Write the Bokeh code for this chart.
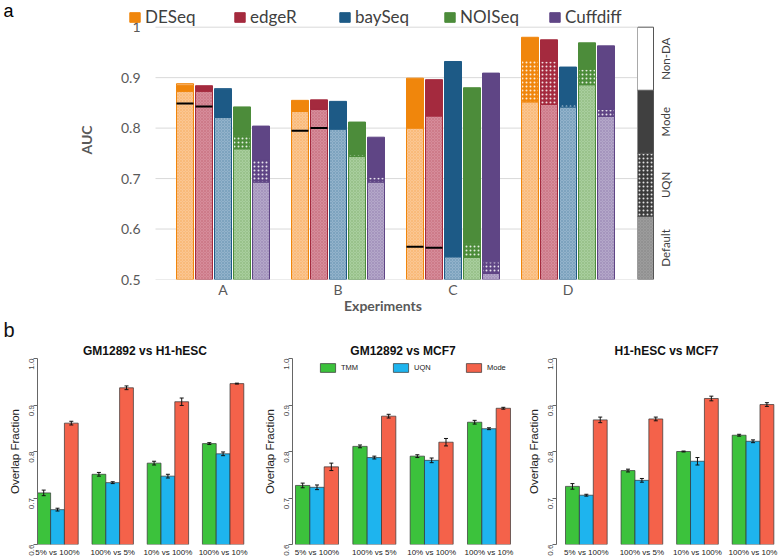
import math
from bokeh.plotting import figure
from bokeh.models import (ColumnDataSource, FixedTicker, NumeralTickFormatter, Legend,
                          LegendItem, Label, Whisker, TeeHead, Range1d, Title)
from bokeh.layouts import row, column
from bokeh.embed import file_html
from bokeh.resources import INLINE
from bokeh.core.properties import value

# ---------------- panel a data ----------------
experiments = ["A", "B", "C", "D"]
methods = ["DESeq", "edgeR", "baySeq", "NOISeq", "Cuffdiff"]

auc_default = {
    "DESeq":    [0.873, 0.833, 0.800, 0.852],
    "edgeR":    [0.873, 0.837, 0.824, 0.847],
    "baySeq":   [0.821, 0.798, 0.545, 0.842],
    "NOISeq":   [0.759, 0.744, 0.544, 0.886],
    "Cuffdiff": [0.693, 0.693, 0.512, 0.823],
}
auc_uqn = {
    "DESeq":    [0.873, 0.833, 0.800, 0.934],
    "edgeR":    [0.873, 0.837, 0.824, 0.933],
    "baySeq":   [0.825, 0.798, 0.545, 0.847],
    "NOISeq":   [0.786, 0.748, 0.572, 0.917],
    "Cuffdiff": [0.736, 0.703, 0.535, 0.837],
}
auc_mode = {
    "DESeq":    [0.885, 0.855, 0.899, 0.980],
    "edgeR":    [0.884, 0.856, 0.896, 0.975],
    "baySeq":   [0.877, 0.853, 0.932, 0.921],
    "NOISeq":   [0.842, 0.812, 0.880, 0.969],
    "Cuffdiff": [0.804, 0.782, 0.909, 0.963],
}
auc_nonda = {
    "DESeq":    [0.888, 0.855, 0.899, 0.980],
    "edgeR":    [0.884, 0.856, 0.896, 0.975],
    "baySeq":   [0.878, 0.853, 0.932, 0.921],
    "NOISeq":   [0.842, 0.812, 0.880, 0.969],
    "Cuffdiff": [0.804, 0.782, 0.909, 0.963],
}
auc_tmm_marker = {
    "DESeq": [0.849, 0.795, 0.565, None],
    "edgeR": [0.843, 0.800, 0.563, None],
}
auc_ticks = [0.5, 0.6, 0.7, 0.8, 0.9, 1.0]
auc_floor = 0.5
key_levels = ["Default", "UQN", "Mode", "Non-DA"]
key_bounds = [0.5, 0.625, 0.75, 0.875, 1.0]

# ---------------- panel b data ----------------
comparisons = ["5% vs 100%", "100% vs 5%", "10% vs 100%", "100% vs 10%"]
norm_names = ["TMM", "UQN", "Mode"]
panel_titles = ["GM12892 vs H1-hESC", "GM12892 vs MCF7", "H1-hESC vs MCF7"]

gm_h1_tmm = [0.711, 0.751, 0.775, 0.817]
gm_h1_uqn = [0.675, 0.733, 0.747, 0.795]
gm_h1_mode = [0.861, 0.937, 0.907, 0.946]
gm_h1_tmm_err = [0.006, 0.004, 0.004, 0.002]
gm_h1_uqn_err = [0.003, 0.002, 0.004, 0.004]
gm_h1_mode_err = [0.004, 0.004, 0.008, 0.001]

gm_mcf_tmm = [0.727, 0.811, 0.790, 0.863]
gm_mcf_uqn = [0.723, 0.787, 0.781, 0.849]
gm_mcf_mode = [0.767, 0.876, 0.820, 0.893]
gm_mcf_tmm_err = [0.005, 0.003, 0.003, 0.004]
gm_mcf_uqn_err = [0.005, 0.003, 0.005, 0.002]
gm_mcf_mode_err = [0.008, 0.004, 0.008, 0.002]

h1_mcf_tmm = [0.725, 0.759, 0.800, 0.835]
h1_mcf_uqn = [0.706, 0.738, 0.779, 0.822]
h1_mcf_mode = [0.868, 0.870, 0.914, 0.901]
h1_mcf_tmm_err = [0.006, 0.003, 0.001, 0.002]
h1_mcf_uqn_err = [0.002, 0.004, 0.008, 0.003]
h1_mcf_mode_err = [0.006, 0.004, 0.005, 0.004]

overlap_ticks = [0.6, 0.7, 0.8, 0.9, 1.0]

# ---------------- styles ----------------
base_col = {"DESeq": "#F0860C", "edgeR": "#A42A3E", "baySeq": "#1D5A86",
            "NOISeq": "#4C8C3A", "Cuffdiff": "#5F4585"}
light_col = {"DESeq": "#FBC692", "edgeR": "#D68C9A", "baySeq": "#93B3CB",
             "NOISeq": "#A9CE9E", "Cuffdiff": "#B4A7C9"}
norm_col = {"TMM": "#3CC23C", "UQN": "#1EB4EE", "Mode": "#F4624A"}
FONT_A = "Lato"
FONT_B = "Liberation Sans"
GRAY = "#595959"

PX_PER_GROUP = 115
bar_step = 19 / PX_PER_GROUP
bar_w = 17 / PX_PER_GROUP
TOP_H = 316
TOP_BOTTOM_BORDER = 37
STRIP_W = 20
FRAME_LEFT = 128          # page x where the top frame starts (legend start)
GRID_LEFT = 155           # page x where the grid lines start
GRID_RIGHT = 637
grid_x0 = -0.587
grid_x1 = grid_x0 + (GRID_RIGHT - GRID_LEFT) / PX_PER_GROUP
x_lo = grid_x0 - (GRID_LEFT - FRAME_LEFT) / PX_PER_GROUP
y_hi = 1.0 + 26.7 / 505


def stack_source(lower, upper):
    d = dict(x=[], bottom=[], top=[], base=[], light=[], method=[])
    for mi, m in enumerate(methods):
        for gi in range(len(experiments)):
            lo = lower[m][gi] if lower is not None else auc_floor
            hi = upper[m][gi]
            if hi - lo > 1e-6:
                d["x"].append(gi + (mi - 2) * bar_step)
                d["bottom"].append(lo)
                d["top"].append(hi)
                d["base"].append(base_col[m])
                d["light"].append(light_col[m])
                d["method"].append(m)
    return ColumnDataSource(d)


def bare(fig):
    fig.outline_line_color = None
    fig.grid.visible = False
    fig.xaxis.visible = False
    fig.yaxis.visible = False
    return fig


# ---------------- panel a ----------------
strip_a = bare(figure(width=STRIP_W, height=TOP_H, x_range=Range1d(0, STRIP_W),
                      y_range=Range1d(0, TOP_H), output_backend="svg",
                      toolbar_location=None, title=None, min_border=0))
strip_a.add_layout(Label(x=3, y=TOP_H - 12, text="a", text_font=FONT_B,
                         text_font_size="18px", text_baseline="middle", text_color="black"))

yr = Range1d(0.5, y_hi)
pa = figure(width=GRID_RIGHT - STRIP_W, height=TOP_H, x_range=Range1d(x_lo, grid_x1), y_range=yr,
            output_backend="svg", toolbar_location=None, title=None,
            min_border_left=FRAME_LEFT - STRIP_W, min_border_right=0,
            min_border_top=0, min_border_bottom=TOP_BOTTOM_BORDER)
pa.outline_line_color = None
pa.grid.visible = False
pa.segment(x0=grid_x0, x1=grid_x1, y0=auc_ticks, y1=auc_ticks,
           line_color="#D9D9D9", line_width=1)

pa.vbar(x="x", bottom="bottom", top="top", width=bar_w, source=stack_source(None, auc_default),
        fill_color="light", line_color="base", line_width=1,
        hatch_pattern="diagonal_cross", hatch_color="base", hatch_alpha=0.3,
        hatch_scale=3, hatch_weight=0.6)
pa.vbar(x="x", bottom="bottom", top="top", width=bar_w, source=stack_source(auc_default, auc_uqn),
        fill_color="base", line_color="base", line_width=1,
        hatch_pattern="dot", hatch_color="white", hatch_alpha=0.85,
        hatch_scale=4, hatch_weight=2.2)
mode_src = stack_source(auc_uqn, auc_mode)
mode_r = pa.vbar(x="x", bottom="bottom", top="top", width=bar_w, source=mode_src,
                 fill_color="base", line_color="base", line_width=1)
pa.vbar(x="x", bottom="bottom", top="top", width=bar_w, source=stack_source(auc_mode, auc_nonda),
        fill_color="light", line_color="base", line_width=1)

tx, ty = [], []
for mi, m in enumerate(methods):
    if m in auc_tmm_marker:
        for gi, v in enumerate(auc_tmm_marker[m]):
            if v is not None:
                tx.append(gi + (mi - 2) * bar_step)
                ty.append(v)
pa.rect(x=tx, y=ty, width=bar_w, height=2, height_units="screen",
        fill_color="black", line_color=None)

pa.xaxis.ticker = FixedTicker(ticks=list(range(len(experiments))))
pa.xaxis.major_label_overrides = {i: e for i, e in enumerate(experiments)}
pa.xaxis.axis_label = "Experiments"
pa.yaxis.ticker = FixedTicker(ticks=auc_ticks)
pa.yaxis.formatter = NumeralTickFormatter(format="0.[0]")
pa.yaxis.axis_label = "AUC"
for ax in (pa.xaxis[0], pa.yaxis[0]):
    ax.axis_line_color = None
    ax.major_tick_line_color = None
    ax.minor_tick_line_color = None
    ax.major_tick_out = 0
    ax.major_tick_in = 0
    ax.major_label_text_font = FONT_A
    ax.major_label_text_font_size = "14px"
    ax.major_label_text_color = GRAY
    ax.axis_label_text_font = FONT_A
    ax.axis_label_text_font_size = "14px"
    ax.axis_label_text_font_style = "bold"
    ax.axis_label_text_color = GRAY
pa.xaxis.major_label_standoff = 1
pa.xaxis.axis_label_standoff = -4
pa.yaxis.major_label_standoff = -12
pa.yaxis.axis_label_standoff = 23

method_rows = mode_src.data["method"]
items = [LegendItem(label=m, renderers=[mode_r], index=method_rows.index(m)) for m in methods]
leg = Legend(items=items, orientation="horizontal", location=(0, 252),
             glyph_width=13, glyph_height=12, label_standoff=4, label_width=60, spacing=28,
             padding=0, margin=0, border_line_color=None, background_fill_alpha=0,
             label_text_font=FONT_A, label_text_font_size="17px",
             label_text_color="#404040")
pa.add_layout(leg)

# key bar on the right
pk = bare(figure(width=50, height=TOP_H, x_range=Range1d(0, 50), y_range=yr,
                 output_backend="svg", toolbar_location=None, title=None,
                 min_border_left=0, min_border_right=0, min_border_top=0,
                 min_border_bottom=TOP_BOTTOM_BORDER))
kb = key_bounds
pk.quad(left=0, right=16, bottom=kb[0], top=kb[1], fill_color="#9C9C9C",
        hatch_pattern="diagonal_cross", hatch_color="#707070", hatch_alpha=0.4,
        hatch_scale=3, hatch_weight=0.6, line_color="#555555")
pk.quad(left=0, right=16, bottom=kb[1], top=kb[2], fill_color="#3C3C3C",
        hatch_pattern="dot", hatch_color="white", hatch_alpha=0.85,
        hatch_scale=4, hatch_weight=2.2, line_color="#555555")
pk.quad(left=0, right=16, bottom=kb[2], top=kb[3], fill_color="#404040", line_color="#555555")
pk.quad(left=0, right=16, bottom=kb[3], top=kb[4], fill_color="white", line_color="#555555")
pk.text(x=[28] * 4, y=[(kb[i] + kb[i + 1]) / 2 for i in range(4)], text=key_levels,
        angle=math.pi / 2, text_align="center", text_baseline="middle",
        text_font=value(FONT_A), text_font_size="11.5px", text_color="#404040")


# ---------------- panel b ----------------
def style_title(t, size, bold=True):
    t.text_font = FONT_B
    t.text_font_size = size
    t.text_font_style = "bold" if bold else "normal"
    t.text_color = "#111111"


def make_panel(title, tmm, uqn, mode, tmm_e, uqn_e, mode_e, width, min_left, min_right, xr,
               title_offset=0, with_legend=False, with_b=False):
    p = figure(width=width, height=559 - TOP_H, x_range=Range1d(*xr), y_range=Range1d(0.6, 1.0),
               output_backend="svg", toolbar_location=None, title=("b" if with_b else title),
               min_border_left=min_left, min_border_right=min_right, min_border_top=40,
               min_border_bottom=0)
    if with_b:
        p.title.align = "left"
        p.title.offset = -34
        p.title.standoff = 0
        style_title(p.title, "20px", bold=False)
        main = Title(text=title, align="center", offset=title_offset, standoff=2)
        style_title(main, "12px")
        p.add_layout(main, "above")
    else:
        p.title.align = "center"
        p.title.standoff = 2
        p.title.offset = title_offset
        style_title(p.title, "12px")
    p.outline_line_color = None
    p.grid.visible = False
    centers = [4 * i for i in range(len(comparisons))]
    rends = []
    for k, (vals, errs) in enumerate(((tmm, tmm_e), (uqn, uqn_e), (mode, mode_e))):
        xs = [c + (k - 1) for c in centers]
        src = ColumnDataSource(dict(x=xs, top=vals,
                                    upper=[v + e for v, e in zip(vals, errs)],
                                    lower=[v - e for v, e in zip(vals, errs)]))
        r = p.vbar(x="x", top="top", bottom=0.6, width=1, source=src,
                   fill_color=norm_col[norm_names[k]], line_color="#333333", line_width=0.7)
        rends.append(r)
        p.add_layout(Whisker(source=src, base="x", upper="upper", lower="lower",
                             line_color="#111111", line_width=1, level="overlay",
                             upper_head=TeeHead(size=4, line_color="#111111"),
                             lower_head=TeeHead(size=4, line_color="#111111")))
    p.xaxis.ticker = FixedTicker(ticks=centers)
    p.xaxis.major_label_overrides = {c: lab for c, lab in zip(centers, comparisons)}
    p.xaxis.axis_line_color = None
    p.xaxis.major_tick_line_color = None
    p.xaxis.minor_tick_line_color = None
    p.xaxis.major_tick_out = 0
    p.xaxis.major_tick_in = 0
    p.xaxis.major_label_text_font = FONT_B
    p.xaxis.major_label_text_font_size = "8px"
    p.xaxis.major_label_text_color = "#222222"
    p.xaxis.major_label_standoff = 3
    p.yaxis.ticker = FixedTicker(ticks=overlap_ticks)
    p.yaxis.formatter = NumeralTickFormatter(format="0.0")
    p.yaxis.axis_line_color = "#666666"
    p.yaxis.major_tick_line_color = "#666666"
    p.yaxis.minor_tick_line_color = None
    p.yaxis.major_tick_out = 4
    p.yaxis.major_tick_in = 0
    p.yaxis.major_label_orientation = math.pi / 2
    p.yaxis.major_label_text_font = FONT_B
    p.yaxis.major_label_text_font_size = "8px"
    p.yaxis.major_label_text_color = "#444444"
    p.yaxis.major_label_standoff = 2
    p.yaxis.axis_label = "Overlap Fraction"
    p.yaxis.axis_label_text_font = FONT_B
    p.yaxis.axis_label_text_font_size = "11.5px"
    p.yaxis.axis_label_text_font_style = "normal"
    p.yaxis.axis_label_text_color = "#222222"
    p.yaxis.axis_label_standoff = 3
    if with_legend:
        lg = Legend(items=[LegendItem(label=n, renderers=[r]) for n, r in zip(norm_names, rends)],
                    orientation="horizontal", location=(26, 171),
                    glyph_width=19, glyph_height=11, label_standoff=4, label_width=20,
                    spacing=30, padding=0, margin=0, border_line_color=None,
                    background_fill_alpha=0,
                    label_text_font=FONT_B, label_text_font_size="7.5px",
                    label_text_color="#222222")
        p.add_layout(lg)
    return p


p1 = make_panel(panel_titles[0], gm_h1_tmm, gm_h1_uqn, gm_h1_mode,
                gm_h1_tmm_err, gm_h1_uqn_err, gm_h1_mode_err,
                255, 37, 3, (-1.45, 14.13), title_offset=-6, with_b=True)
p2 = make_panel(panel_titles[1], gm_mcf_tmm, gm_mcf_uqn, gm_mcf_mode,
                gm_mcf_tmm_err, gm_mcf_uqn_err, gm_mcf_mode_err,
                260, 37, 2, (-1.71, 13.71), with_legend=True)
p3 = make_panel(panel_titles[2], h1_mcf_tmm, h1_mcf_uqn, h1_mcf_mode,
                h1_mcf_tmm_err, h1_mcf_uqn_err, h1_mcf_mode_err,
                263, 41, 2, (-2.148, 13.69))

layout = column(row(strip_a, pa, pk), row(p1, p2, p3))
open("out.html", "w").write(file_html(layout, INLINE))
